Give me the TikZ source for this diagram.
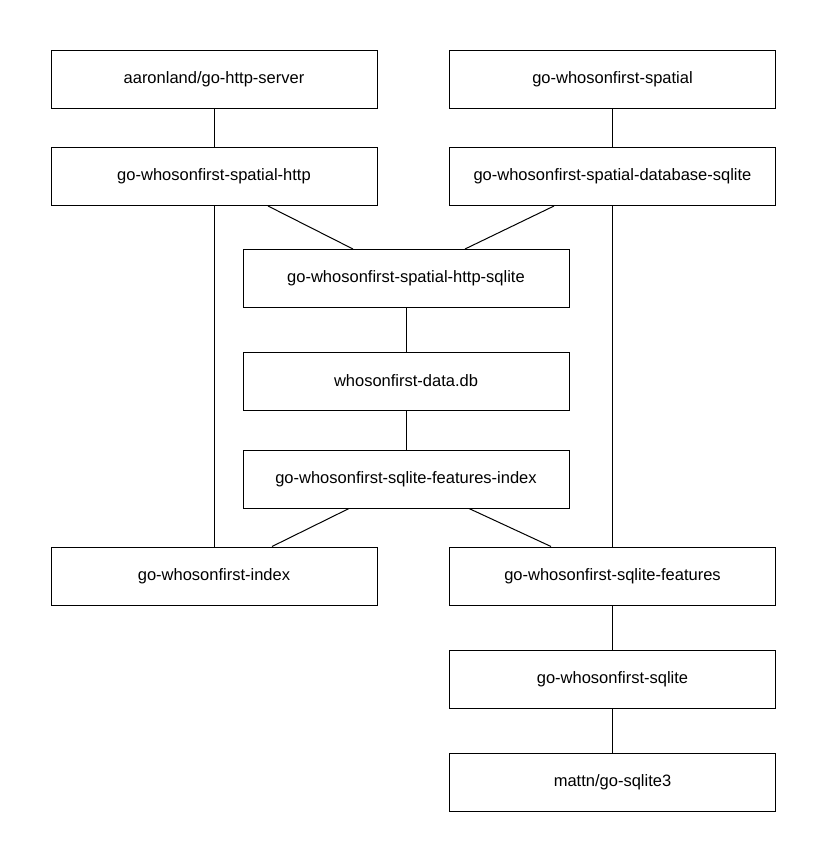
\documentclass[tikz,border=0pt]{standalone}
\usepackage{fontspec}
\setmainfont{Liberation Sans}
\begin{document}
\begin{tikzpicture}[x=1pt, y=-1pt, line width=1pt,
    pkg/.style={draw, minimum width=326pt, minimum height=58pt, inner sep=0pt,
      font=\fontsize{16.5}{20}\selectfont}]
    \useasboundingbox (0, 0) rectangle (827, 863);

    \node[pkg] (a) at (214, 79) {aaronland/go-http-server};
    \node[pkg] (b) at (612.5, 79) {go-whosonfirst-spatial};
    \node[pkg] (c) at (214, 176.5) {go-whosonfirst-spatial-http};
    \node[pkg] (d) at (612.5, 176.5) {go-whosonfirst-spatial-database-sqlite};
    \node[pkg] (e) at (406, 278.5) {go-whosonfirst-spatial-http-sqlite};
    \node[pkg] (f) at (406, 381) {whosonfirst-data.db};
    \node[pkg] (g) at (406, 479) {go-whosonfirst-sqlite-features-index};
    \node[pkg] (h) at (214, 576) {go-whosonfirst-index};
    \node[pkg] (i) at (612.5, 576) {go-whosonfirst-sqlite-features};
    \node[pkg] (j) at (612.5, 679.5) {go-whosonfirst-sqlite};
    \node[pkg] (k) at (612.5, 782) {mattn/go-sqlite3};

    \draw (a) to (c);
    \draw (b) to (d);
    \draw ([xshift=54pt]c.south) to ([xshift=-53pt]e.north);
    \draw ([xshift=-58.5pt]d.south) to ([xshift=59pt]e.north);
    \draw (c) to (h);
    \draw (d) to (i);
    \draw (e) to (f);
    \draw (f) to (g);
    \draw ([xshift=-57pt]g.south) to ([xshift=58pt]h.north);
    \draw ([xshift=63pt]g.south) to ([xshift=-61.5pt]i.north);
    \draw (i) to (j);
    \draw (j) to (k);

\end{tikzpicture}
\end{document}
